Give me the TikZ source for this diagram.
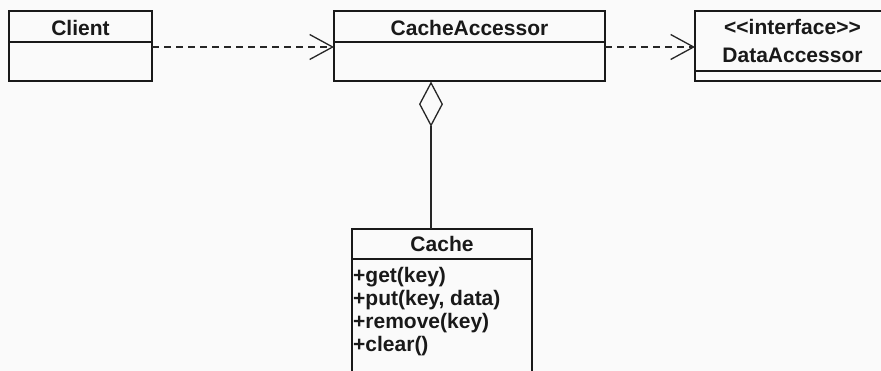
\documentclass[tikz,border=0pt]{standalone}
\usepackage{fontspec}
\setmainfont{Liberation Sans}
\usetikzlibrary{arrows.meta,shapes.geometric}
\tikzset{
  umlbox/.style={draw=black!90, line width=2pt, anchor=north west, inner sep=0pt, outer sep=0pt},
  umltext/.style={font=\fontsize{21}{24}\selectfont\bfseries, inner sep=0pt, anchor=base, text=black!90},
  optext/.style={umltext, anchor=base west},
  compart/.style={draw=black!90, line width=2pt},
  dep/.style={draw=black!85, line width=1.3pt, dash pattern=on 7pt off 5pt,
    -{Straight Barb[length=23pt,width=25pt,line width=1.3pt]}},
  agglink/.style={draw=black!85, line width=1.3pt},
}
\begin{document}
\begin{tikzpicture}[x=1pt,y=-1pt]
\useasboundingbox (0,0) rectangle (881,371);
\fill[white!98!black] (0,0) rectangle (881,371);
\clip (0,0) rectangle (881,371);

% classes
\node[umlbox, minimum width=143pt, minimum height=70pt] (client) at (9,11) {};
\draw[compart] (9,42) -- (152,42);
\node[umltext] (clientname) at (80.5,36) {Client};

\node[umlbox, minimum width=271pt, minimum height=70pt] (acc) at (334,11) {};
\draw[compart] (334,42) -- (605,42);
\node[umltext] (accname) at (469.5,36) {CacheAccessor};

\node[umlbox, minimum width=195pt, minimum height=70pt] (data) at (695,11) {};
\draw[compart] (695,71) -- (890,71);
\node[umltext] (datast) at (792.5,35) {<{}<interface>{}>};
\node[umltext] (dataname) at (792.5,63) {DataAccessor};

\node[umlbox, minimum width=180pt, minimum height=160pt] (cache) at (352,229) {};
\draw[compart] (352,259) -- (532,259);
\node[umltext] (cachename) at (442,252) {Cache};
\node[optext] (op1) at (353,283) {+get(key)};
\node[optext] (op2) at (353,306) {+put(key, data)};
\node[optext] (op3) at (353,329) {+remove(key)};
\node[optext] (op4) at (353,352) {+clear()};

% aggregation diamond
\node[draw=black!85, line width=1.3pt, diamond, aspect=0.53, inner sep=0pt,
      minimum width=23pt, minimum height=43pt, anchor=north] (agg) at (431,82) {};

% relations
\coordinate (row) at (0,47);
\draw[dep] (client.east |- row) -- (acc.west |- row);
\draw[dep] (acc.east |- row) -- (data.west |- row);
\draw[agglink] (agg.south) -- (agg.south |- cache.north);
\end{tikzpicture}
\end{document}
